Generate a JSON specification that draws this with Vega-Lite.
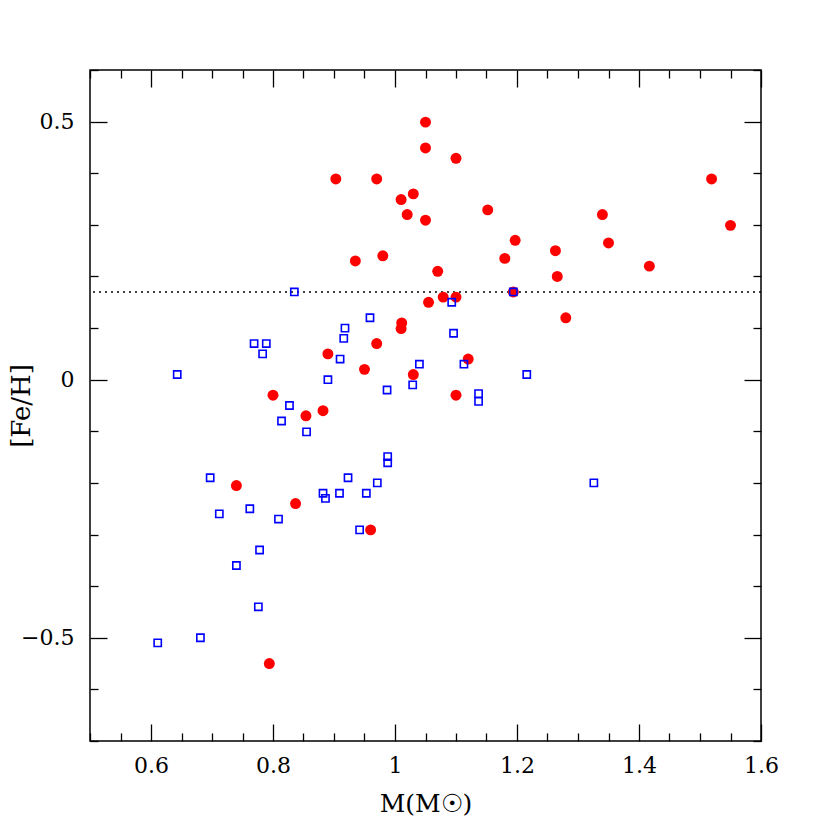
{
  "$schema": "https://vega.github.io/schema/vega-lite/v6.json",
  "width": 671,
  "height": 671,
  "autosize": {"type": "none"},
  "padding": {"left": 90, "top": 70, "right": 69, "bottom": 89},
  "background": "white",
  "config": {
    "view": {"stroke": "black", "strokeWidth": 1.5},
    "axis": {"grid": false, "domain": false, "tickColor": "black", "tickWidth": 1.3, "labelColor": "black", "titleColor": "black"}
  },
  "datasets": {
    "ref": [{"feh": 0.17}],
    "stars": [
      {"mass": 0.740, "feh": -0.205, "set": "filled"},
      {"mass": 0.837, "feh": -0.240, "set": "filled"},
      {"mass": 0.960, "feh": -0.291, "set": "filled"},
      {"mass": 0.794, "feh": -0.550, "set": "filled"},
      {"mass": 0.890, "feh": 0.050, "set": "filled"},
      {"mass": 0.970, "feh": 0.070, "set": "filled"},
      {"mass": 0.950, "feh": 0.020, "set": "filled"},
      {"mass": 0.800, "feh": -0.030, "set": "filled"},
      {"mass": 0.854, "feh": -0.070, "set": "filled"},
      {"mass": 0.882, "feh": -0.060, "set": "filled"},
      {"mass": 1.011, "feh": 0.110, "set": "filled"},
      {"mass": 1.010, "feh": 0.099, "set": "filled"},
      {"mass": 1.030, "feh": 0.010, "set": "filled"},
      {"mass": 1.055, "feh": 0.150, "set": "filled"},
      {"mass": 1.050, "feh": 0.499, "set": "filled"},
      {"mass": 1.050, "feh": 0.449, "set": "filled"},
      {"mass": 1.100, "feh": 0.429, "set": "filled"},
      {"mass": 0.903, "feh": 0.389, "set": "filled"},
      {"mass": 0.970, "feh": 0.389, "set": "filled"},
      {"mass": 1.030, "feh": 0.360, "set": "filled"},
      {"mass": 1.010, "feh": 0.349, "set": "filled"},
      {"mass": 1.020, "feh": 0.320, "set": "filled"},
      {"mass": 1.050, "feh": 0.309, "set": "filled"},
      {"mass": 1.152, "feh": 0.329, "set": "filled"},
      {"mass": 1.340, "feh": 0.320, "set": "filled"},
      {"mass": 1.350, "feh": 0.265, "set": "filled"},
      {"mass": 1.197, "feh": 0.270, "set": "filled"},
      {"mass": 1.263, "feh": 0.250, "set": "filled"},
      {"mass": 1.180, "feh": 0.235, "set": "filled"},
      {"mass": 1.266, "feh": 0.200, "set": "filled"},
      {"mass": 0.935, "feh": 0.230, "set": "filled"},
      {"mass": 0.980, "feh": 0.240, "set": "filled"},
      {"mass": 1.070, "feh": 0.210, "set": "filled"},
      {"mass": 1.079, "feh": 0.160, "set": "filled"},
      {"mass": 1.100, "feh": 0.160, "set": "filled"},
      {"mass": 1.194, "feh": 0.170, "set": "filled"},
      {"mass": 1.280, "feh": 0.120, "set": "filled"},
      {"mass": 1.120, "feh": 0.040, "set": "filled"},
      {"mass": 1.100, "feh": -0.030, "set": "filled"},
      {"mass": 1.417, "feh": 0.220, "set": "filled"},
      {"mass": 1.519, "feh": 0.389, "set": "filled"},
      {"mass": 1.550, "feh": 0.299, "set": "filled"},
      {"mass": 0.697, "feh": -0.190, "set": "open"},
      {"mass": 0.712, "feh": -0.260, "set": "open"},
      {"mass": 0.762, "feh": -0.250, "set": "open"},
      {"mass": 0.809, "feh": -0.270, "set": "open"},
      {"mass": 0.778, "feh": -0.330, "set": "open"},
      {"mass": 0.740, "feh": -0.360, "set": "open"},
      {"mass": 0.776, "feh": -0.440, "set": "open"},
      {"mass": 0.681, "feh": -0.500, "set": "open"},
      {"mass": 0.611, "feh": -0.510, "set": "open"},
      {"mass": 0.882, "feh": -0.220, "set": "open"},
      {"mass": 0.886, "feh": -0.230, "set": "open"},
      {"mass": 0.909, "feh": -0.220, "set": "open"},
      {"mass": 0.923, "feh": -0.190, "set": "open"},
      {"mass": 0.953, "feh": -0.220, "set": "open"},
      {"mass": 0.971, "feh": -0.200, "set": "open"},
      {"mass": 0.988, "feh": -0.149, "set": "open"},
      {"mass": 0.988, "feh": -0.161, "set": "open"},
      {"mass": 0.942, "feh": -0.291, "set": "open"},
      {"mass": 0.835, "feh": 0.170, "set": "open"},
      {"mass": 0.959, "feh": 0.120, "set": "open"},
      {"mass": 0.918, "feh": 0.100, "set": "open"},
      {"mass": 0.916, "feh": 0.080, "set": "open"},
      {"mass": 0.910, "feh": 0.040, "set": "open"},
      {"mass": 0.769, "feh": 0.070, "set": "open"},
      {"mass": 0.789, "feh": 0.070, "set": "open"},
      {"mass": 0.783, "feh": 0.050, "set": "open"},
      {"mass": 0.643, "feh": 0.010, "set": "open"},
      {"mass": 0.890, "feh": 0.000, "set": "open"},
      {"mass": 0.827, "feh": -0.050, "set": "open"},
      {"mass": 0.814, "feh": -0.080, "set": "open"},
      {"mass": 0.855, "feh": -0.101, "set": "open"},
      {"mass": 0.987, "feh": -0.020, "set": "open"},
      {"mass": 1.040, "feh": 0.030, "set": "open"},
      {"mass": 1.029, "feh": -0.010, "set": "open"},
      {"mass": 1.194, "feh": 0.170, "set": "open"},
      {"mass": 1.093, "feh": 0.150, "set": "open"},
      {"mass": 1.096, "feh": 0.090, "set": "open"},
      {"mass": 1.113, "feh": 0.030, "set": "open"},
      {"mass": 1.216, "feh": 0.010, "set": "open"},
      {"mass": 1.137, "feh": -0.027, "set": "open"},
      {"mass": 1.137, "feh": -0.042, "set": "open"},
      {"mass": 1.326, "feh": -0.200, "set": "open"}
    ]
  },
  "layer": [
    {
      "data": {"name": "ref"},
      "mark": {"type": "rule", "color": "black", "strokeWidth": 1.5, "strokeDash": [2, 4]},
      "encoding": {
        "y": {"field": "feh", "type": "quantitative", "scale": {"domain": [-0.7, 0.6], "nice": false, "zero": false}, "axis": null}
      }
    },
    {
      "data": {"name": "stars"},
      "transform": [{"filter": "datum.set == 'filled'"}],
      "mark": {"type": "point", "shape": "circle", "filled": true, "color": "#ff0000", "size": 120, "opacity": 1},
      "encoding": {
        "x": {
          "field": "mass", "type": "quantitative",
          "scale": {"domain": [0.5, 1.6], "nice": false, "zero": false},
          "axis": {
            "orient": "bottom",
            "values": [0.5, 0.55, 0.6, 0.65, 0.7, 0.75, 0.8, 0.85, 0.9, 0.95, 1, 1.05, 1.1, 1.15, 1.2, 1.25, 1.3, 1.35, 1.4, 1.45, 1.5, 1.55, 1.6],
            "tickSize": {"condition": {"test": "abs(datum.value*5 - round(datum.value*5)) < 0.001", "value": -17}, "value": -8},
            "labelExpr": "abs(datum.value*5 - round(datum.value*5)) < 0.001 ? format(datum.value, '~g') : ''",
            "labelFont": "DejaVu Serif", "labelFontSize": 22, "labelPadding": 31,
            "labelOverlap": false, "labelFlush": false, "labelBound": false,
            "title": "M(M☉)", "titleFont": "DejaVu Serif", "titleFontSize": 25, "titleFontWeight": "normal",
            "titleBaseline": "alphabetic", "titleAlign": "center", "titleX": 335.5, "titleY": 70
          }
        },
        "y": {
          "field": "feh", "type": "quantitative",
          "scale": {"domain": [-0.7, 0.6], "nice": false, "zero": false},
          "axis": {
            "orient": "left",
            "values": [-0.7, -0.6, -0.5, -0.4, -0.3, -0.2, -0.1, 0, 0.1, 0.2, 0.3, 0.4, 0.5, 0.6],
            "tickSize": {"condition": {"test": "abs(datum.value*2 - round(datum.value*2)) < 0.001", "value": -17}, "value": -8},
            "labelExpr": "abs(datum.value*2 - round(datum.value*2)) < 0.001 ? format(datum.value, '~g') : ''",
            "labelFont": "DejaVu Serif", "labelFontSize": 22, "labelPadding": 33,
            "labelOverlap": false, "labelFlush": false, "labelBound": false,
            "title": "[Fe/H]", "titleFont": "DejaVu Serif", "titleFontSize": 26, "titleFontWeight": "normal",
            "titleAngle": -90, "titleBaseline": "bottom", "titleAlign": "center", "titleX": -56, "titleY": 335.5
          }
        }
      }
    },
    {
      "data": {"name": "stars"},
      "transform": [{"filter": "datum.set == 'open'"}],
      "mark": {"type": "point", "shape": "square", "filled": false, "color": "#0000ff", "size": 52, "strokeWidth": 1.6, "opacity": 1},
      "encoding": {
        "x": {
          "field": "mass", "type": "quantitative",
          "scale": {"domain": [0.5, 1.6], "nice": false, "zero": false},
          "axis": {
            "orient": "top",
            "values": [0.5, 0.55, 0.6, 0.65, 0.7, 0.75, 0.8, 0.85, 0.9, 0.95, 1, 1.05, 1.1, 1.15, 1.2, 1.25, 1.3, 1.35, 1.4, 1.45, 1.5, 1.55, 1.6],
            "tickSize": {"condition": {"test": "abs(datum.value*5 - round(datum.value*5)) < 0.001", "value": -17}, "value": -8},
            "labels": false, "title": null
          }
        },
        "y": {
          "field": "feh", "type": "quantitative",
          "scale": {"domain": [-0.7, 0.6], "nice": false, "zero": false},
          "axis": {
            "orient": "right",
            "values": [-0.7, -0.6, -0.5, -0.4, -0.3, -0.2, -0.1, 0, 0.1, 0.2, 0.3, 0.4, 0.5, 0.6],
            "tickSize": {"condition": {"test": "abs(datum.value*2 - round(datum.value*2)) < 0.001", "value": -17}, "value": -8},
            "labels": false, "title": null
          }
        }
      }
    }
  ],
  "resolve": {"axis": {"x": "independent", "y": "independent"}}
}
